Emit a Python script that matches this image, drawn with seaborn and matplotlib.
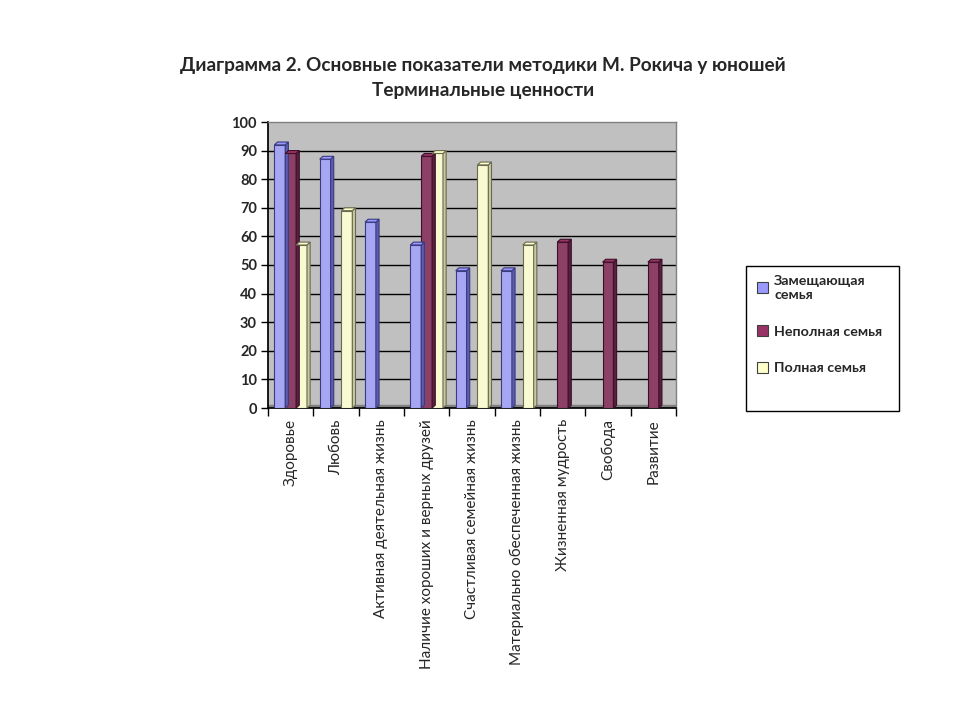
import numpy as np
import pandas as pd
import matplotlib
matplotlib.use("Agg")
import matplotlib.pyplot as plt
from matplotlib.patches import Polygon, Rectangle, Patch
import seaborn as sns

categories = [
    "Здоровье",
    "Любовь",
    "Активная деятельная жизнь",
    "Наличие хороших и верных друзей",
    "Счастливая семейная жизнь",
    "Материально обеспеченная жизнь",
    "Жизненная мудрость",
    "Свобода",
    "Развитие",
]
series_names = ["Замещающая семья", "Неполная семья", "Полная семья"]
legend_labels = ["Замещающая\nсемья", "Неполная семья", "Полная семья"]
zam = [92, 87, 65, 57, 48, 48, np.nan, np.nan, np.nan]
nepol = [89, np.nan, np.nan, 88, np.nan, np.nan, 58, 51, 51]
poln = [57, 69, np.nan, 89, 85, 57, np.nan, np.nan, np.nan]
y_ticks = [0, 10, 20, 30, 40, 50, 60, 70, 80, 90, 100]
title = "Диаграмма 2. Основные показатели методики М. Рокича у юношей\nТерминальные ценности"

colors = ["#9999FF", "#993366", "#FFFFCC"]
edge_colors = ["#3a3a80", "#3d1028", "#6a6a50"]
side_colors = ["#5c5cb0", "#5a1f3e", "#c8c8a0"]

sns.set_theme(style="white")
plt.rcParams["font.family"] = ["Lato", "DejaVu Sans"]

rows = []
for s, vals in zip(series_names, [zam, nepol, poln]):
    for c, v in zip(categories, vals):
        rows.append({"cat": c, "series": s, "value": v})
df = pd.DataFrame(rows)

fig = plt.figure(figsize=(9.6, 7.2), dpi=100)
ax = fig.add_axes([268 / 960, 1 - 408 / 720, (676 - 268) / 960, (408 - 122) / 720])
ax.set_facecolor("#C0C0C0")

sns.barplot(data=df, x="cat", y="value", hue="series", hue_order=series_names,
            order=categories, palette=colors, width=0.72, ax=ax,
            linewidth=0.8, edgecolor="#202020", legend=False, zorder=3)

ax.set_xlim(-0.5, len(categories) - 0.5)
ax.set_ylim(0, 100)

# floor
ax.axhspan(0, 1.2, color="#808080", zorder=2)
# gridlines
for t in y_ticks[1:-1]:
    ax.axhline(t, color="black", lw=1.0, zorder=1)

# pseudo-3D side faces derived from bar geometry
dx, dy = 0.07, 1.0
for i, cont in enumerate(ax.containers):
    for p in cont.patches:
        h = p.get_height()
        if not np.isfinite(h) or h <= 0:
            continue
        x0, w = p.get_x(), p.get_width()
        p.set_edgecolor(edge_colors[i])
        side = Polygon([(x0 + w, 0), (x0 + w + dx, dy), (x0 + w + dx, h + dy), (x0 + w, h)],
                       closed=True, facecolor=side_colors[i], edgecolor=edge_colors[i],
                       lw=0.8, zorder=3)
        top = Polygon([(x0, h), (x0 + dx, h + dy), (x0 + w + dx, h + dy), (x0 + w, h)],
                      closed=True, facecolor=colors[i], edgecolor=edge_colors[i],
                      lw=0.8, zorder=3)
        ax.add_patch(side)
        ax.add_patch(top)

ax.set_yticks(y_ticks)
ax.set_yticklabels([str(t) for t in y_ticks], fontsize=10.5, fontweight="bold")
ax.set_xticks(range(len(categories)))
ax.set_xticklabels(categories, rotation=90, fontsize=11, va="top", ha="center")
ax.tick_params(axis="x", length=0, pad=8)
ax.tick_params(axis="y", length=5, width=1, color="black", direction="out", pad=3, left=True)
# category boundary ticks
ax.set_xticks(np.arange(-0.5, len(categories), 1.0), minor=True)
ax.tick_params(axis="x", which="minor", length=6, width=1, color="black", direction="out", bottom=True)
ax.set_xlabel("")
ax.set_ylabel("")

for side_name in ["top", "right"]:
    ax.spines[side_name].set_color("#808080")
    ax.spines[side_name].set_linewidth(1)
ax.spines["left"].set_color("black")
ax.spines["bottom"].set_color("black")

fig.text(0.503, 1 - 78 / 720, title, ha="center", va="center", fontsize=13.7,
         fontweight="bold", linespacing=1.6)

# legend box
fig.patches.append(Rectangle((746 / 960, 1 - 411 / 720), 153 / 960, 145 / 720,
                             transform=fig.transFigure, facecolor="white",
                             edgecolor="black", lw=1))
handles = [Patch(facecolor=c, edgecolor="#404040", lw=0.8) for c in colors]
fig.legend(handles, legend_labels, loc="upper left",
           bbox_to_anchor=(744 / 960, 1 - 262 / 720), frameon=False,
           handlelength=0.8, handleheight=0.8, handletextpad=0.4,
           labelspacing=1.7, prop={"weight": "bold", "size": 10.3})

fig.savefig("out.png", dpi=100)
